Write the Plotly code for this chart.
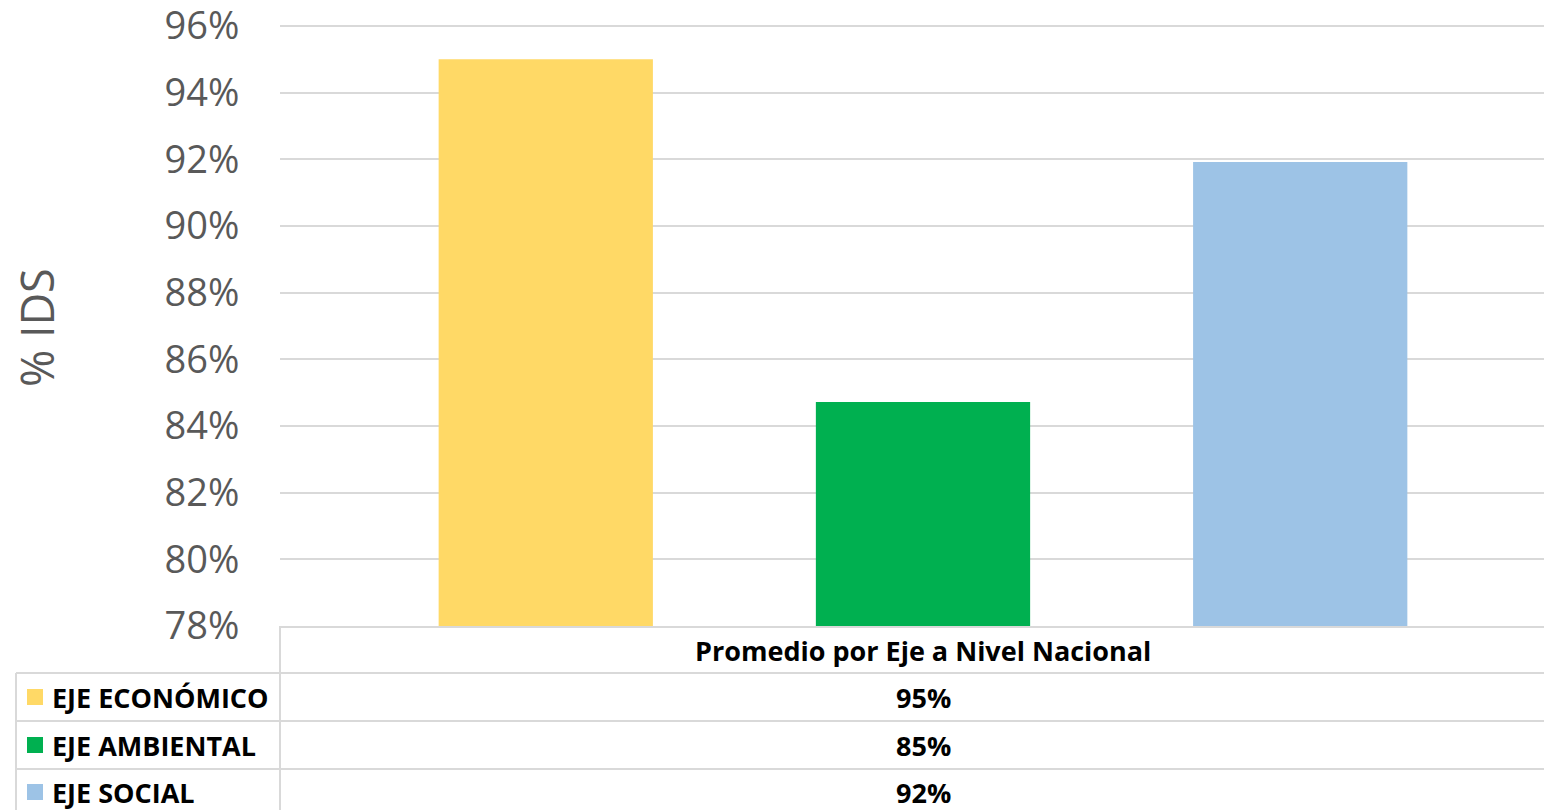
import plotly.graph_objects as go

categories = ["Promedio por Eje a Nivel Nacional"]
series_names = ["EJE ECONÓMICO", "EJE AMBIENTAL", "EJE SOCIAL"]
series_values = [95.0, 84.72, 91.92]
series_colors = ["#FFD966", "#00B050", "#9DC3E6"]
tick_vals = list(range(78, 97, 2))
tick_text = [f"{v}%" for v in tick_vals]

W, H = 1544, 810
Y_MIN, Y_MAX = 78, 96.1
PLOT_LEFT, PLOT_BOTTOM = 280, 626
PX_PER_UNIT = 600 / 18.0
PLOT_TOP = PLOT_BOTTOM - (Y_MAX - Y_MIN) * PX_PER_UNIT
GRID = "#D9D9D9"

def py(p):  # pixel y from top -> paper fraction
    return 1 - p / H

def px(p):
    return p / W

fig = go.Figure()
for name, val, col in zip(series_names, series_values, series_colors):
    fig.add_trace(go.Bar(x=categories, y=[val], name=name, marker=dict(color=col, line=dict(width=0)),
                         showlegend=False))

fig.update_layout(
    width=W, height=H,
    margin=dict(l=0, r=0, t=0, b=0, autoexpand=False),
    paper_bgcolor="white", plot_bgcolor="white",
    barmode="group", bargap=0.12, bargroupgap=0.432,
    xaxis=dict(domain=[px(PLOT_LEFT), 1], range=[-0.5, 0.4829], showticklabels=False,
               showgrid=False, zeroline=False, showline=False, fixedrange=True, automargin=False),
    yaxis=dict(domain=[py(PLOT_BOTTOM), py(PLOT_TOP)], range=[Y_MIN, Y_MAX], tickvals=tick_vals,
               ticktext=tick_text, showgrid=True, gridcolor=GRID, gridwidth=2, zeroline=False,
               showline=False, tickfont=dict(family="Open Sans", size=38, color="#595959"),
               ticks="outside", ticklen=32, tickcolor="rgba(0,0,0,0)", fixedrange=True,
               automargin=False, ticklabeloverflow="allow"),
    font=dict(family="Open Sans"),
)

# y-axis title
fig.add_annotation(x=px(36), y=py(328), xref="paper", yref="paper", text="% IDS", textangle=-90,
                   showarrow=False, font=dict(family="Open Sans", size=45, color="#595959"),
                   xanchor="center", yanchor="middle")

# data table lines
line = dict(color=GRID, width=2)
fig.add_shape(type="line", xref="paper", yref="paper", x0=px(PLOT_LEFT), x1=1, y0=py(627), y1=py(627), line=line)
for yy in [673, 721, 769]:
    fig.add_shape(type="line", xref="paper", yref="paper", x0=px(16), x1=1, y0=py(yy), y1=py(yy), line=line)
fig.add_shape(type="line", xref="paper", yref="paper", x0=px(PLOT_LEFT), x1=px(PLOT_LEFT), y0=py(626), y1=0, line=line)
fig.add_shape(type="line", xref="paper", yref="paper", x0=px(16), x1=px(16), y0=py(673), y1=0, line=line)

tfont = dict(family="Open Sans", size=27, color="black")
fig.add_annotation(x=0, y=py(650), xref="x", yref="paper", text="<b>%s</b>" % categories[0],
                   showarrow=False, font=tfont, xanchor="center", yanchor="middle")
row_centers = [697, 745, 792]
for name, val, col, yc in zip(series_names, series_values, series_colors, row_centers):
    fig.add_shape(type="rect", xref="paper", yref="paper", x0=px(27), x1=px(43), y0=py(yc - 8), y1=py(yc + 8),
                  fillcolor=col, line=dict(width=0))
    fig.add_annotation(x=px(50), y=py(yc), xref="paper", yref="paper", text="<b>%s</b>" % name,
                       showarrow=False, font=tfont, xanchor="left", yanchor="middle")
    fig.add_annotation(x=0, y=py(yc), xref="x", yref="paper", text="<b>%d%%</b>" % round(val),
                       showarrow=False, font=tfont, xanchor="center", yanchor="middle")

fig.write_html("out.html")
